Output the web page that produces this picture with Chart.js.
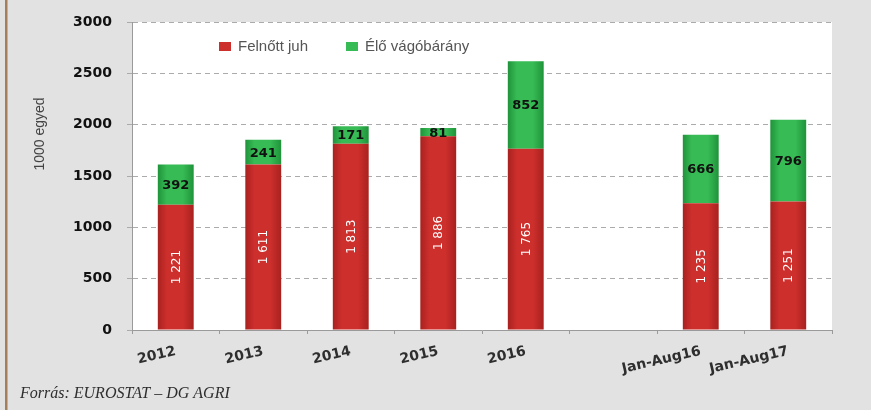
<!DOCTYPE html>
<html>
<head>
<meta charset="utf-8">
<script src="https://cdn.jsdelivr.net/npm/chart.js@4.4.1/dist/chart.umd.min.js"></script>
<style>
  html, body { margin: 0; padding: 0; background: #e2e2e2; }
  #wrap { position: relative; width: 871px; height: 410px; }
</style>
</head>
<body>
<div id="wrap"><canvas id="Chart1" width="871" height="410"></canvas></div>
<script>
// data
var categories = ['2012', '2013', '2014', '2015', '2016', '', 'Jan-Aug16', 'Jan-Aug17'];
var felnottJuh = [1221, 1611, 1813, 1886, 1765, null, 1235, 1251];
var eloVagobarany = [392, 241, 171, 81, 852, null, 666, 796];
var seriesNames = ['Felnőtt juh', 'Élő vágóbárány'];
var yTicks = [0, 500, 1000, 1500, 2000, 2500, 3000];

var RED = '#cd2f2c', RED_EDGE = '#a8211f';
var GREEN = '#37bb55', GREEN_EDGE = '#1f933a';

// cylinder-ish shading across each bar
function barFill(mid, edge) {
	return function (c) {
		var el = c.element;
		if (!el || el.x == null || isNaN(el.x) || !el.width) return mid;
		var g = c.chart.ctx.createLinearGradient(el.x - el.width / 2, 0, el.x + el.width / 2, 0);
		g.addColorStop(0, edge);
		g.addColorStop(0.25, mid);
		g.addColorStop(0.7, mid);
		g.addColorStop(1, edge);
		return g;
	};
}

function fmt(v) {
	if (v >= 1000) {
		var r = String(v % 1000);
		while (r.length < 3) r = '0' + r;
		return Math.floor(v / 1000) + ' ' + r;
	}
	return String(v);
}

// white plot area, legend inside it, rotated y title, footer, left brown line
var decor = {
	id: 'decor',
	beforeDraw: function (chart) {
		var ctx = chart.ctx, a = chart.chartArea;
		ctx.save();
		ctx.fillStyle = '#e2e2e2';
		ctx.fillRect(0, 0, chart.width, chart.height);
		ctx.fillStyle = '#ffffff';
		ctx.fillRect(a.left, a.top, a.right - a.left, a.bottom - a.top);
		ctx.fillStyle = '#a3805a';
		ctx.fillRect(5, 0, 2.5, chart.height);
		ctx.restore();
	},
	afterDraw: function (chart) {
		var ctx = chart.ctx;
		ctx.save();
		// legend
		var items = [
			{ x: 219, col: RED },
			{ x: 346, col: GREEN }
		];
		ctx.font = '15px "Liberation Sans", Arial, sans-serif';
		ctx.textBaseline = 'middle';
		items.forEach(function (it, i) {
			ctx.fillStyle = it.col;
			ctx.fillRect(it.x, 42, 12, 9);
			ctx.fillStyle = '#555555';
			ctx.fillText(seriesNames[i], it.x + 19, 47);
		});
		// y axis title
		ctx.translate(40, 134);
		ctx.rotate(-Math.PI / 2);
		ctx.textAlign = 'center';
		ctx.fillStyle = '#444444';
		ctx.font = '14px "Liberation Sans", Arial, sans-serif';
		ctx.fillText('1000 egyed', 0, 0);
		ctx.restore();
		// footer
		ctx.save();
		ctx.font = 'italic 16px "Liberation Serif", serif';
		ctx.fillStyle = '#2e2e2e';
		ctx.textBaseline = 'alphabetic';
		ctx.fillText('Forrás: EUROSTAT – DG AGRI', 20, 398);
		ctx.restore();
	}
};

// value labels on the bar segments
var barLabels = {
	id: 'barLabels',
	afterDatasetsDraw: function (chart) {
		var ctx = chart.ctx;
		ctx.save();
		ctx.textAlign = 'center';
		ctx.textBaseline = 'middle';
		chart.data.datasets.forEach(function (ds, di) {
			var meta = chart.getDatasetMeta(di);
			meta.data.forEach(function (el, i) {
				var v = ds.data[i];
				if (v == null) return;
				var cy = (el.y + el.base) / 2;
				if (di === 0) {
					ctx.save();
					ctx.translate(el.x, cy);
					ctx.rotate(-Math.PI / 2);
					ctx.fillStyle = '#ffffff';
					ctx.font = '12px "DejaVu Sans", sans-serif';
					ctx.fillText(fmt(v), 0, 1);
					ctx.restore();
				} else {
					ctx.fillStyle = '#111111';
					ctx.font = 'bold 13px "DejaVu Sans", sans-serif';
					ctx.fillText(fmt(v), el.x, cy + 1);
				}
			});
		});
		ctx.restore();
	}
};

var context = document.getElementById('Chart1').getContext('2d');

var myChart = new Chart(context, {
	type: 'bar',
	data: {
		labels: categories,
		datasets: [{
			label: seriesNames[0],
			data: felnottJuh,
			backgroundColor: barFill(RED, RED_EDGE),
			barPercentage: 0.82,
			categoryPercentage: 0.5
		}, {
			label: seriesNames[1],
			data: eloVagobarany,
			backgroundColor: barFill(GREEN, GREEN_EDGE),
			barPercentage: 0.82,
			categoryPercentage: 0.5
		}]
	},
	options: {
		responsive: false,
		animation: false,
		layout: { padding: { left: 0, right: 39, top: 10, bottom: 0 } },
		plugins: {
			legend: { display: false },
			tooltip: { enabled: false }
		},
		scales: {
			x: {
				stacked: true,
				afterFit: function (s) { s.height = 80; },
				grid: { drawOnChartArea: false, drawTicks: true, tickLength: 4, color: '#9a9a9a', offset: true },
				border: { display: true, color: '#9a9a9a', width: 1 },
				ticks: {
					autoSkip: false,
					minRotation: 13,
					maxRotation: 13,
					padding: 9,
					color: '#2e2e2e',
					font: { family: '"DejaVu Sans", sans-serif', weight: 'bold', size: 14 }
				}
			},
			y: {
				stacked: true,
				min: 0,
				max: 3000,
				afterFit: function (s) { s.width = 132; },
				afterBuildTicks: function (s) {
					s.ticks = yTicks.map(function (v) { return { value: v }; });
				},
				grid: { color: '#ababab', tickLength: 5, drawTicks: true },
				border: { display: true, color: '#9a9a9a', dash: [5, 4] },
				ticks: {
					padding: 15,
					color: '#111111',
					font: { family: '"DejaVu Sans", sans-serif', weight: 'bold', size: 14, lineHeight: 1 },
					callback: function (v) { return String(v); }
				}
			}
		}
	},
	plugins: [decor, barLabels]
});

// second pass so the bar gradients know the bar positions
myChart.update('none');
</script>
</body>
</html>
